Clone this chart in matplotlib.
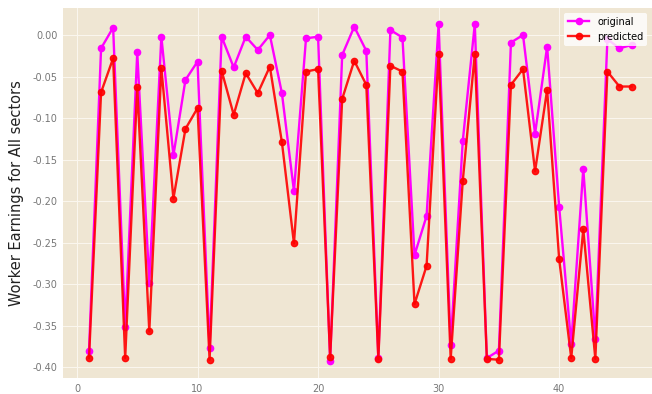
import numpy as np
import matplotlib.pyplot as plt

# Values
index = np.arange(1, 47)
original = [-0.380, -0.016, 0.009, -0.352, -0.021, -0.298, -0.002, -0.145,
            -0.054, -0.032, -0.377, -0.002, -0.039, -0.002, -0.018, 0.000,
            -0.070, -0.188, -0.004, -0.002, -0.392, -0.024, 0.010, -0.019,
            -0.389, 0.006, -0.003, -0.265, -0.218, 0.013, -0.373, -0.128,
            0.013, -0.389, -0.380, -0.009, 0.000, -0.119, -0.014, -0.207,
            -0.372, -0.161, -0.366, -0.005, -0.016, -0.012]
predicted = [-0.389, -0.069, -0.028, -0.389, -0.063, -0.357, -0.040, -0.197,
             -0.113, -0.088, -0.391, -0.043, -0.096, -0.046, -0.070, -0.038,
             -0.129, -0.251, -0.044, -0.041, -0.388, -0.077, -0.031, -0.060,
             -0.390, -0.037, -0.044, -0.324, -0.278, -0.023, -0.390, -0.176,
             -0.023, -0.390, -0.391, -0.060, -0.041, -0.164, -0.066, -0.270,
             -0.389, -0.234, -0.390, -0.044, -0.062, -0.062]
y_ticks = [-0.40, -0.35, -0.30, -0.25, -0.20, -0.15, -0.10, -0.05, 0.00]

fig = plt.figure(figsize=(6.52, 3.94), dpi=100)
ax = fig.add_axes([0.0966, 0.0406, 0.9034, 0.939])
ax.set_facecolor('#efe6d3')
for spine in ax.spines.values():
    spine.set_visible(False)
ax.grid(True, color='#fbf7ef', lw=0.7)
ax.set_axisbelow(True)

ax.plot(index, original, color='magenta', marker='o', ms=4.5, lw=1.7,
        label='original')
ax.plot(index, predicted, color='red', marker='o', ms=4.5, lw=1.7,
        alpha=0.9, label='predicted')

ax.set_xlim(-1.16, 47.7)
ax.set_ylim(-0.413, 0.0325)
ax.set_xticks([0, 10, 20, 30, 40])
ax.set_yticks(y_ticks)
ax.set_yticklabels([f'{v:.2f}' for v in y_ticks])
ax.tick_params(colors='#777777', labelsize=7, length=0, pad=4)
ax.set_ylabel('Worker Earnings for All sectors', fontsize=10.5,
              color='#222222', labelpad=6)
ax.legend(loc='upper right', fontsize=7, framealpha=0.8, facecolor='white',
          edgecolor='none', borderpad=0.4, handlelength=2.2)

plt.savefig('out.png', dpi=100)
